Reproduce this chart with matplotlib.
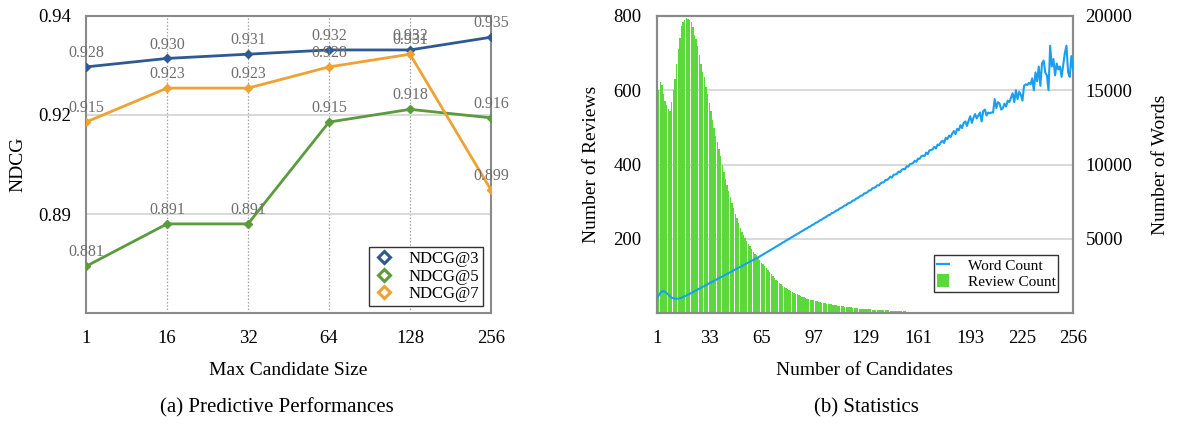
import matplotlib
matplotlib.use("Agg")
import matplotlib.pyplot as plt
from matplotlib.lines import Line2D
from matplotlib.patches import Patch

plt.rcParams['font.family'] = ['Liberation Serif', 'DejaVu Serif']

# ---- (a) predictive performance ----
cand_sizes = ["1", "16", "32", "64", "128", "256"]
ndcg3 = [0.928, 0.930, 0.931, 0.932, 0.932, 0.935]
ndcg5 = [0.881, 0.891, 0.891, 0.915, 0.918, 0.916]
ndcg7 = [0.915, 0.923, 0.923, 0.928, 0.931, 0.899]
series_names = ["NDCG@3", "NDCG@5", "NDCG@7"]
ndcg_ticks = [0.87, 0.8933, 0.9167, 0.94]
ndcg_tick_labels = ["", "0.89", "0.92", "0.94"]

# ---- (b) statistics ----
review_counts = [
    680, 600, 622, 615, 590, 570, 560, 550, 545, 568,
    600, 630, 670, 710, 740, 772, 783, 788, 795, 792,
    788, 783, 770, 750, 738, 718, 695, 672, 650, 635,
    610, 590, 565, 543, 520, 498, 478, 460, 442, 422,
    400, 380, 362, 345, 328, 312, 296, 282, 268, 255,
    242, 229, 219, 210, 201, 193, 186, 180, 172, 165,
    160, 155, 148, 142, 136, 131, 126, 120, 115, 110,
    105, 100, 95, 90, 86, 82, 78, 74, 71, 68,
    64, 61, 59, 56, 54, 52, 50, 48, 46, 44,
    42, 40, 39, 38, 36, 35, 34, 32, 31, 30,
    29, 28, 27, 26, 25, 24, 23, 23, 22, 21,
    21, 20, 19, 19, 18, 17, 17, 16, 15, 15,
    14, 14, 13, 13, 12, 12, 12, 11, 11, 10,
    10, 10, 9, 9, 9, 8, 8, 8, 8, 7,
    7, 7, 7, 6, 6, 6, 6, 6, 5, 5,
    5, 5, 5, 4, 4, 4, 4, 4, 4, 3,
    3, 3, 3, 3, 3, 3, 2, 2, 2, 2,
    2, 2, 2, 2, 2, 1, 1, 1, 1, 1,
]
word_counts = [
    970, 1180, 1350, 1450, 1470, 1420, 1330, 1220, 1120, 1040,
    990, 965, 960, 970, 995, 1030, 1075, 1125, 1180, 1235,
    1295, 1350, 1410, 1465, 1525, 1585, 1640, 1700, 1760, 1815,
    1875, 1935, 1990, 2050, 2110, 2170, 2225, 2285, 2345, 2400,
    2460, 2520, 2580, 2635, 2695, 2755, 2810, 2870, 2930, 2990,
    3045, 3105, 3165, 3220, 3280, 3340, 3400, 3455, 3515, 3575,
    3635, 3690, 3750, 3810, 3880, 3940, 4010, 4070, 4140, 4200,
    4270, 4330, 4400, 4470, 4530, 4610, 4660, 4740, 4790, 4870,
    4930, 4990, 5070, 5120, 5200, 5250, 5330, 5380, 5460, 5520,
    5580, 5660, 5700, 5790, 5830, 5920, 5960, 6050, 6100, 6170,
    6250, 6290, 6380, 6430, 6500, 6580, 6610, 6720, 6750, 6830,
    6900, 6940, 7040, 7080, 7150, 7240, 7260, 7380, 7410, 7470,
    7570, 7590, 7700, 7740, 7820, 7900, 7920, 8050, 8070, 8140,
    8250, 8260, 8400, 8420, 8480, 8600, 8590, 8720, 8790, 8800,
    8950, 8960, 9050, 9180, 9120, 9300, 9330, 9360, 9520, 9480,
    9640, 9700, 9680, 9880, 9850, 10020, 10050, 10100, 10250, 10180,
    10400, 10380, 10550, 10600, 10560, 10800, 10700, 10950, 10980, 11020,
    11200, 11080, 11350, 11300, 11500, 11600, 11450, 11800, 11700, 11950,
    11850, 12100, 12250, 12050, 12400, 12300, 12650, 12450, 12800, 12900,
    12600, 12950, 13250, 12800, 13150, 13400, 13100, 13300, 13500, 12900,
    13600, 13700, 13300, 13500, 13450, 13500, 13500, 14400, 13800, 14200,
    14100, 13700, 13800, 14100, 13900, 14300, 14200, 14500, 14800, 14200,
    15000, 14400, 14900, 14700, 14300, 15300, 15400, 15350, 15500, 15400,
    15800, 15000, 16200, 15600, 16600, 15300, 16800, 17000, 16200, 16000,
    15000, 18000, 16600, 17100, 16000, 16800, 16400, 16600, 15900, 16700,
    17500, 18000, 16200, 15900, 17300, 16400,
]
n_candidates = list(range(1, len(word_counts) + 1))
review_x = n_candidates[:len(review_counts)]
cand_ticks = [1, 33, 65, 97, 129, 161, 193, 225, 256]
review_ticks = [200, 400, 600, 800]
word_ticks = [5000, 10000, 15000, 20000]

BLUE = "#2E5A93"
GREEN = "#5C9B3C"
ORANGE = "#EFA234"
SPINE = "#8A8A8A"
GRID = "#D9D9D9"
LABEL_GRAY = "#6E6E6E"

fig = plt.figure(figsize=(11.78, 4.24), dpi=100)

# ---------------- left panel ----------------
ax = fig.add_axes([86 / 1178, 1 - 313 / 424, 405 / 1178, 297 / 424])
xs = list(range(len(cand_sizes)))
for vals, col in zip([ndcg3, ndcg5, ndcg7], [BLUE, GREEN, ORANGE]):
    ax.plot(xs, vals, color=col, lw=2.0, marker="D", ms=4.2, mfc=col, mec=col, zorder=3)
for vals in [ndcg3, ndcg5, ndcg7]:
    for xi, v in zip(xs, vals):
        ax.annotate(f"{v:.3f}", (xi, v), xytext=(0, 10), textcoords="offset points",
                    ha="center", va="center", fontsize=11.5, color=LABEL_GRAY, zorder=4)

ax.set_xlim(0, len(cand_sizes) - 1)
ax.set_ylim(0.87, 0.94)
ax.set_xticks(xs)
ax.set_xticklabels(cand_sizes, fontsize=13.5)
ax.set_yticks(ndcg_ticks)
ax.set_yticklabels(ndcg_tick_labels, fontsize=13.5)
ax.tick_params(length=0, pad=11)
ax.tick_params(axis="x", pad=12)
for xi in xs[1:-1]:
    ax.axvline(xi, color="#A0A0A0", lw=0.9, ls=(0, (1.2, 1.5)), zorder=1)
for yt in ndcg_ticks[1:-1]:
    ax.axhline(yt, color=GRID, lw=1.4, zorder=1)
for s in ax.spines.values():
    s.set_color(SPINE)
    s.set_linewidth(1.5)
ax.set_xlabel("Max Candidate Size", fontsize=14, labelpad=11)
ax.set_ylabel("NDCG", fontsize=14, labelpad=8)

handles = [Line2D([], [], ls="none", marker="D", ms=6.5, mfc="white", mec=c, mew=2.2)
           for c in [BLUE, GREEN, ORANGE]]
leg = ax.legend(handles, series_names, loc="lower right", bbox_to_anchor=(0.981, 0.022),
                fontsize=12, frameon=True, fancybox=False, framealpha=1,
                edgecolor="#333333", handlelength=1.2, handletextpad=0.9,
                borderpad=0.25, labelspacing=0.1, borderaxespad=0)
leg.get_frame().set_linewidth(1.0)

# ---------------- right panel ----------------
bx = fig.add_axes([657 / 1178, 1 - 313 / 424, 416 / 1178, 297 / 424])
bx.bar(review_x, review_counts, width=0.85, color="#5CD83C", linewidth=0, zorder=2)
bx.set_xlim(1, 256)
bx.set_ylim(0, 800)
bx.set_xticks(cand_ticks)
bx.set_xticklabels([str(t) for t in cand_ticks], fontsize=13.5)
bx.set_yticks(review_ticks)
bx.set_yticklabels([str(t) for t in review_ticks], fontsize=13.5)
bx.tick_params(length=0, pad=11)
bx.tick_params(axis="x", pad=12)
for yt in review_ticks[:-1]:
    bx.axhline(yt, color=GRID, lw=1.4, zorder=1)
bx.set_xlabel("Number of Candidates", fontsize=14, labelpad=11)
bx.set_ylabel("Number of Reviews", fontsize=14, labelpad=10)

tx = bx.twinx()
tx.plot(n_candidates, word_counts, color="#1A9FF0", lw=1.5, zorder=3)
tx.set_ylim(0, 20000)
tx.set_yticks(word_ticks)
tx.set_yticklabels([str(t) for t in word_ticks], fontsize=13.5)
tx.tick_params(length=0, pad=9)
tx.set_ylabel("Number of Words", fontsize=14, labelpad=14)
for a in (bx, tx):
    for s in a.spines.values():
        s.set_color(SPINE)
        s.set_linewidth(1.5)

h2 = [Line2D([], [], color="#1A9FF0", lw=1.6),
      Patch(facecolor="#5CD83C", edgecolor="none")]
leg2 = tx.legend(h2, ["Word Count", "Review Count"], loc="lower right",
                 bbox_to_anchor=(0.965, 0.071), fontsize=11, frameon=True,
                 fancybox=False, framealpha=1, edgecolor="#333333",
                 handlelength=0.8, handleheight=1.0, handletextpad=1.2,
                 borderpad=0.2, labelspacing=0.05, borderaxespad=0)
leg2.get_frame().set_linewidth(1.0)

# ---------------- captions ----------------
fig.text(277 / 1178, 1 - 408 / 424, "(a) Predictive Performances", ha="center",
         va="center", fontsize=15)
fig.text(866 / 1178, 1 - 408 / 424, "(b) Statistics", ha="center", va="center",
         fontsize=15)

fig.savefig("out.png", dpi=100)
